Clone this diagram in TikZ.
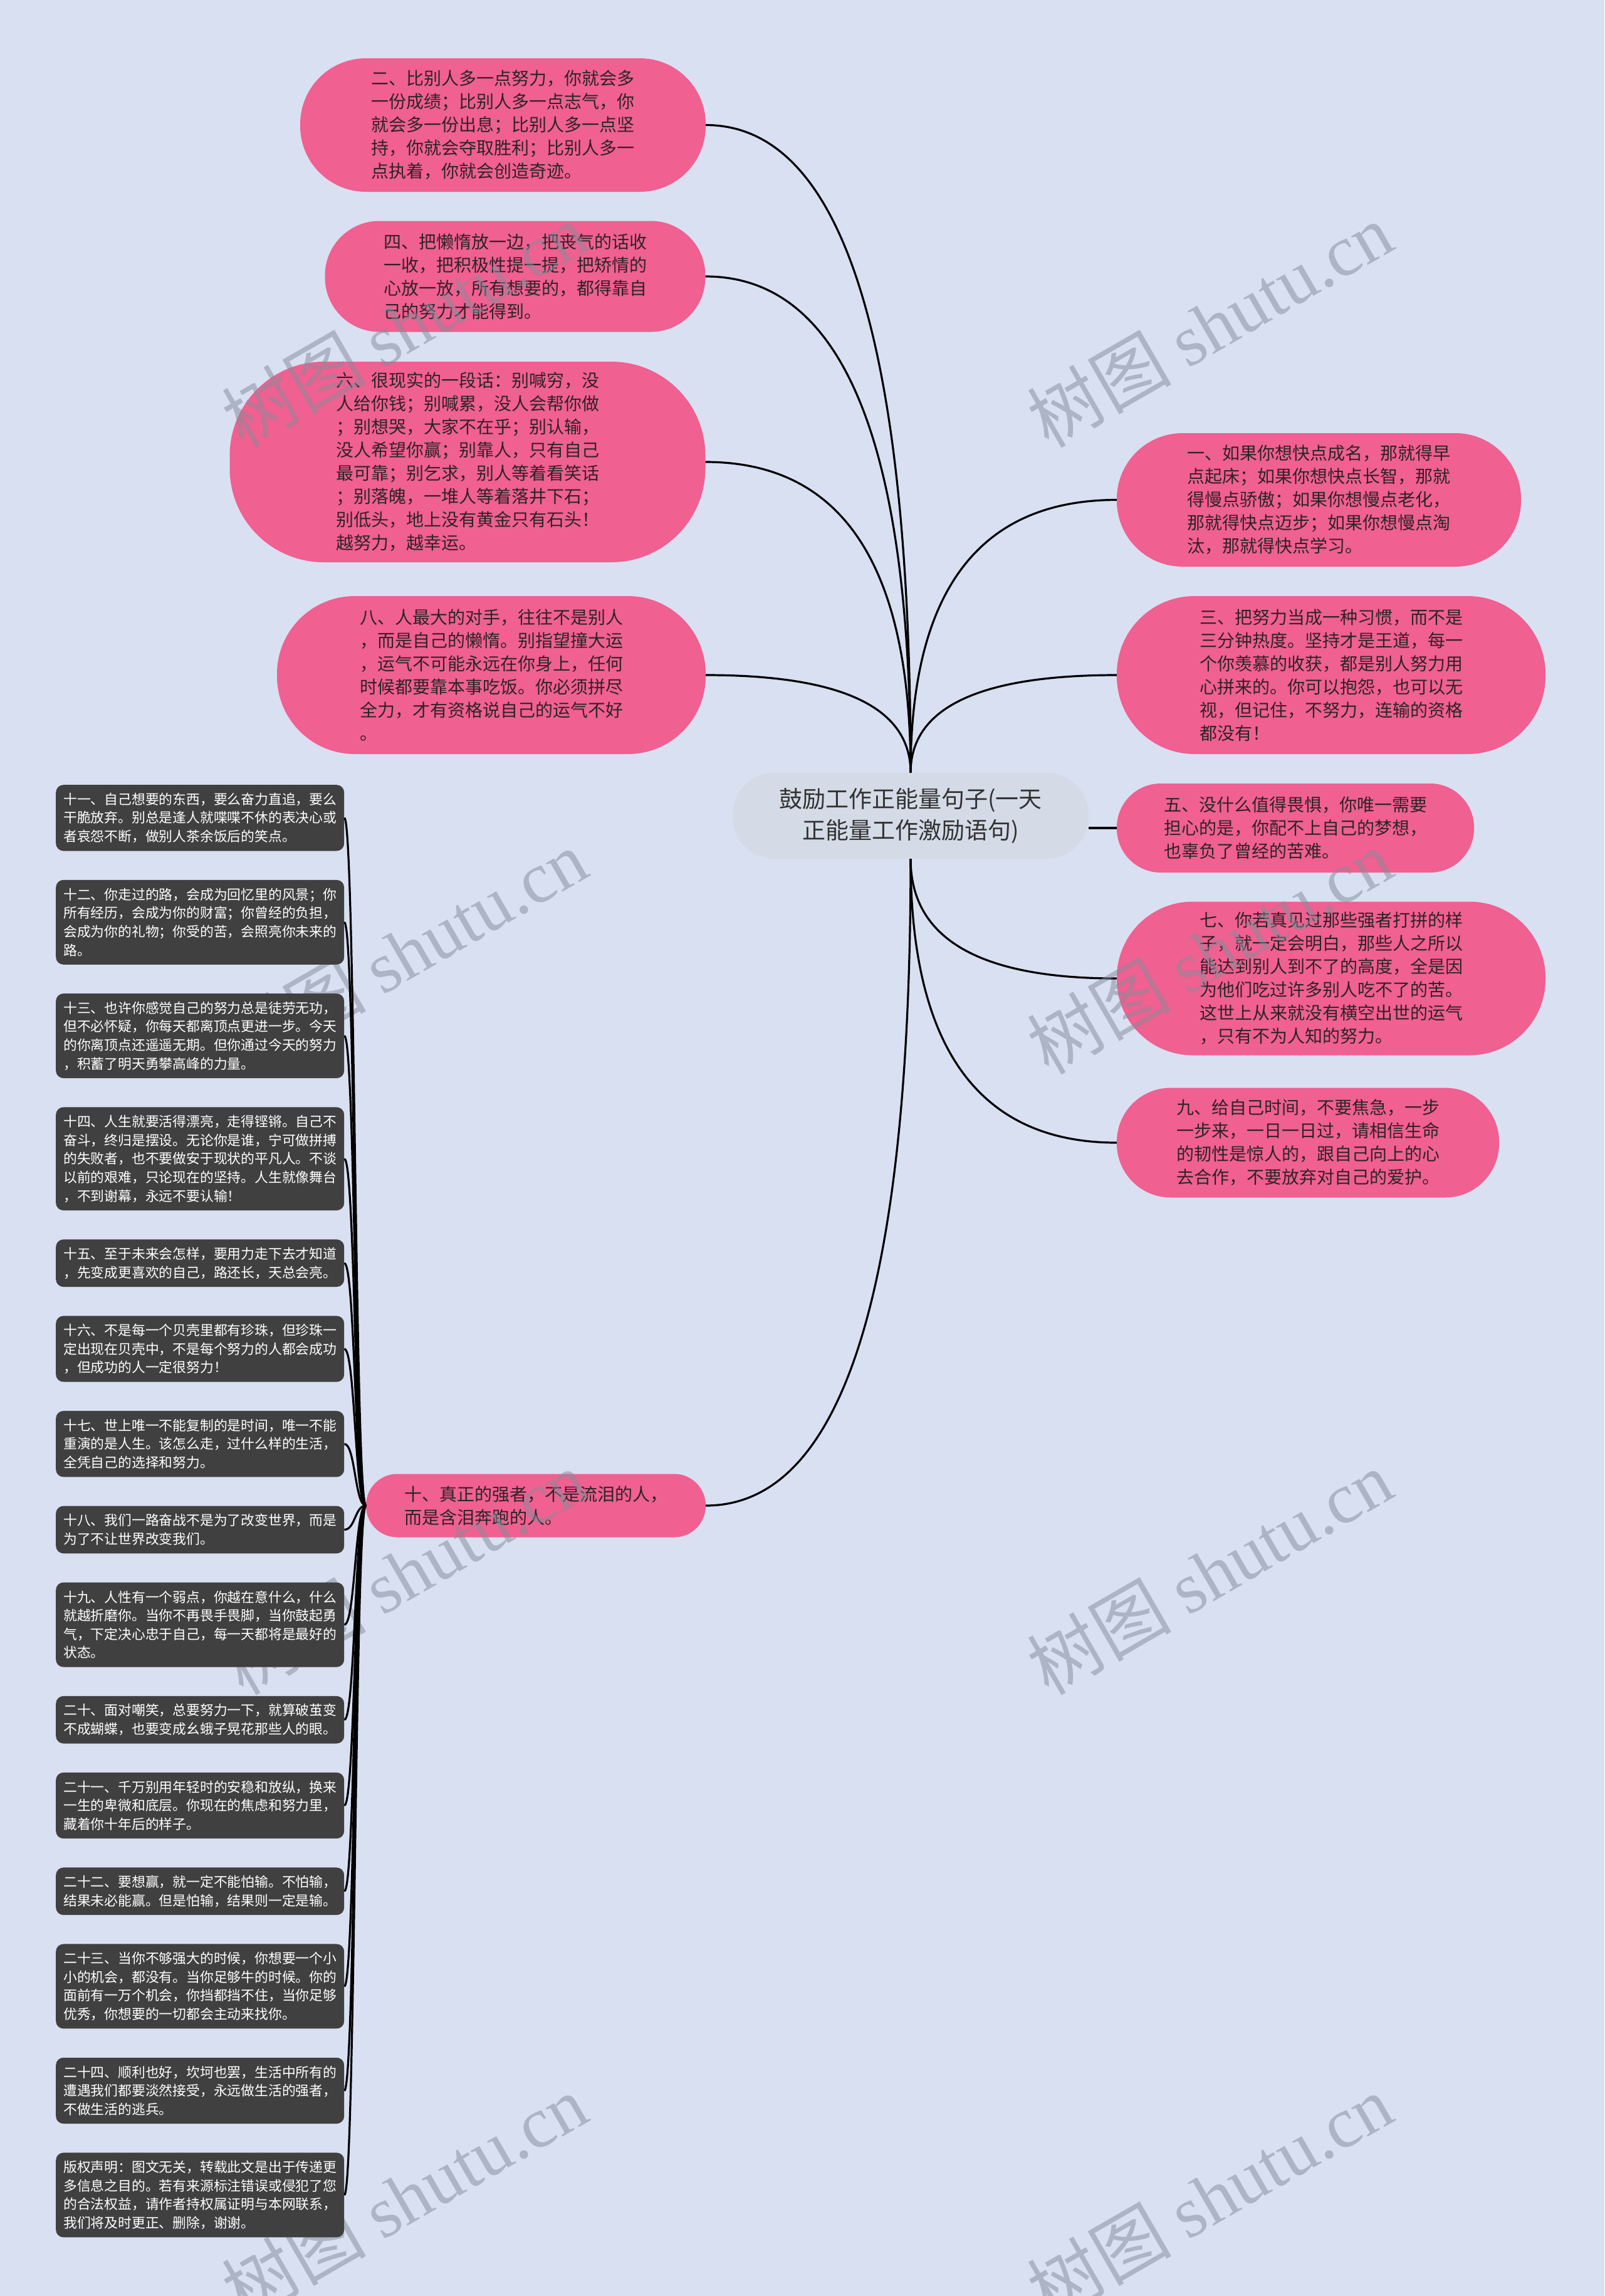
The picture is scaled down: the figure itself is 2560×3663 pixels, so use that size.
\documentclass[tikz,border=0pt]{standalone}
\usepackage{fontspec}
\setmainfont{Noto Sans CJK SC}
\newfontfamily\wmlatin{Liberation Serif}
\usetikzlibrary{calc}
\definecolor{bgc}{RGB}{217,224,242}
\definecolor{pinkc}{RGB}{240,96,144}
\definecolor{darkc}{RGB}{64,64,64}
\definecolor{ctrc}{RGB}{212,219,230}
\definecolor{ptext}{RGB}{45,35,40}
\definecolor{ctext}{RGB}{50,50,50}
\definecolor{wmc}{RGB}{131,140,154}
\newcommand\mmlink[2]{\coordinate (mmk) at (#1 |- #2);
  \draw[link] (#1) .. controls ($(#1)!0.667!(mmk)$) and ($(#2)!0.667!(mmk)$) .. (#2);}
\newcommand\boxlink[1]{\draw[link] (n10.west) .. controls ([xshift=-17.5pt]n10.west) and ([xshift=17.5pt]#1.east) .. (#1.east);}
\tikzset{
  pinknode/.style={fill=pinkc, text=ptext, align=left, text width=420pt, inner sep=0pt,
    font=\fontsize{28pt}{37pt}\selectfont},
  darkbox/.style={fill=darkc, text=white, align=left, text width=436pt, inner xsep=12pt,
    inner ysep=0pt, rounded corners=12pt, minimum height=#1*29.66pt+16.35pt, anchor=north west,
    font=\fontsize{21.8pt}{29.66pt}\selectfont},
  centernode/.style={fill=ctrc, text=ctext, align=center, inner sep=0pt,
    font=\fontsize{37pt}{50pt}\selectfont},
  link/.style={draw=black, line width=3.2pt},
  wm/.style={text=wmc, text opacity=0.5, rotate=30, font=\fontsize{115pt}{120pt}\selectfont},
}
\begin{document}
\begin{tikzpicture}[x=1pt,y=1pt]
\useasboundingbox (0,0) rectangle (2560,-3663);
\fill[bgc] (0,0) rectangle (2560,-3663);

% left pink nodes
\node[pinknode, minimum width=647pt, minimum height=213pt, rounded corners=105pt] (n2) at (802.5,-199.5)
{二、比别人多一点努力，你就会多\\一份成绩；比别人多一点志气，你\\就会多一份出息；比别人多一点坚\\持，你就会夺取胜利；比别人多一\\点执着，你就会创造奇迹。};
\node[pinknode, minimum width=607pt, minimum height=177pt, rounded corners=87pt] (n4) at (822,-441)
{四、把懒惰放一边，把丧气的话收\\一收，把积极性提一提，把矫情的\\心放一放，所有想要的，都得靠自\\己的努力才能得到。};
\node[pinknode, minimum width=759pt, minimum height=320pt, rounded corners=150pt] (n6) at (746,-737)
{六、很现实的一段话：别喊穷，没\\人给你钱；别喊累，没人会帮你做\\；别想哭，大家不在乎；别认输，\\没人希望你赢；别靠人，只有自己\\最可靠；别乞求，别人等着看笑话\\；别落魄，一堆人等着落井下石；\\别低头，地上没有黄金只有石头！\\越努力，越幸运。};
\node[pinknode, minimum width=684pt, minimum height=252pt, rounded corners=124pt] (n8) at (784,-1077)
{八、人最大的对手，往往不是别人\\，而是自己的懒惰。别指望撞大运\\，运气不可能永远在你身上，任何\\时候都要靠本事吃饭。你必须拼尽\\全力，才有资格说自己的运气不好\\。};
\node[pinknode, minimum width=542pt, minimum height=101pt, rounded corners=50pt] (n10) at (855,-2402)
{十、真正的强者，不是流泪的人，\\而是含泪奔跑的人。};

% right pink nodes
\node[pinknode, minimum width=645pt, minimum height=213pt, rounded corners=105pt] (n1) at (2104.5,-797.5)
{一、如果你想快点成名，那就得早\\点起床；如果你想快点长智，那就\\得慢点骄傲；如果你想慢点老化，\\那就得快点迈步；如果你想慢点淘\\汰，那就得快点学习。};
\node[pinknode, minimum width=684pt, minimum height=252pt, rounded corners=124pt] (n3) at (2124,-1077)
{三、把努力当成一种习惯，而不是\\三分钟热度。坚持才是王道，每一\\个你羡慕的收获，都是别人努力用\\心拼来的。你可以抱怨，也可以无\\视，但记住，不努力，连输的资格\\都没有！};
\node[pinknode, minimum width=570pt, minimum height=142pt, rounded corners=70pt] (n5) at (2067,-1321)
{五、没什么值得畏惧，你唯一需要\\担心的是，你配不上自己的梦想，\\也辜负了曾经的苦难。};
\node[pinknode, minimum width=684pt, minimum height=245pt, rounded corners=121pt] (n7) at (2124,-1561)
{七、你若真见过那些强者打拼的样\\子，就一定会明白，那些人之所以\\能达到别人到不了的高度，全是因\\为他们吃过许多别人吃不了的苦。\\这世上从来就没有横空出世的运气\\，只有不为人知的努力。};
\node[pinknode, minimum width=610pt, minimum height=175pt, rounded corners=86pt] (n9) at (2087,-1823)
{九、给自己时间，不要焦急，一步\\一步来，一日一日过，请相信生命\\的韧性是惊人的，跟自己向上的心\\去合作，不要放弃对自己的爱护。};

% center
\node[centernode, minimum width=568pt, minimum height=137pt, rounded corners=67pt] (ctr) at (1453,-1301.5)
{鼓励工作正能量句子(一天\\正能量工作激励语句)};

% center links
\mmlink{ctr.north}{n2.east}
\mmlink{ctr.north}{n4.east}
\mmlink{ctr.north}{n6.east}
\mmlink{ctr.north}{n8.east}
\mmlink{ctr.north}{n1.west}
\mmlink{ctr.north}{n3.west}
\draw[link] (ctr.east |- n5.west) -- (n5.west);
\mmlink{ctr.south}{n7.west}
\mmlink{ctr.south}{n9.west}
\mmlink{ctr.south}{n10.east}

% watermarks
\node[wm] (w1) at (645,-518) {树图 {\wmlatin shutu.cn}};
\node[wm] (w2) at (1930,-518) {树图 {\wmlatin shutu.cn}};
\node[wm] (w3) at (645,-1518) {树图 {\wmlatin shutu.cn}};
\node[wm] (w4) at (1930,-1518) {树图 {\wmlatin shutu.cn}};
\node[wm] (w5) at (645,-2508) {树图 {\wmlatin shutu.cn}};
\node[wm] (w6) at (1930,-2508) {树图 {\wmlatin shutu.cn}};
\node[wm] (w7) at (645,-3504) {树图 {\wmlatin shutu.cn}};
\node[wm] (w8) at (1930,-3504) {树图 {\wmlatin shutu.cn}};

% dark boxes
\node[darkbox=3] (b11) at (89,-1252)
{十一、自己想要的东西，要么奋力直追，要么\\干脆放弃。别总是逢人就喋喋不休的表决心或\\者哀怨不断，做别人茶余饭后的笑点。};
\node[darkbox=4] (b12) at ([yshift=-45.9pt]b11.south west)
{十二、你走过的路，会成为回忆里的风景；你\\所有经历，会成为你的财富；你曾经的负担，\\会成为你的礼物；你受的苦，会照亮你未来的\\路。};
\node[darkbox=4] (b13) at ([yshift=-45.9pt]b12.south west)
{十三、也许你感觉自己的努力总是徒劳无功，\\但不必怀疑，你每天都离顶点更进一步。今天\\的你离顶点还遥遥无期。但你通过今天的努力\\，积蓄了明天勇攀高峰的力量。};
\node[darkbox=5] (b14) at ([yshift=-45.9pt]b13.south west)
{十四、人生就要活得漂亮，走得铿锵。自己不\\奋斗，终归是摆设。无论你是谁，宁可做拼搏\\的失败者，也不要做安于现状的平凡人。不谈\\以前的艰难，只论现在的坚持。人生就像舞台\\，不到谢幕，永远不要认输！};
\node[darkbox=2] (b15) at ([yshift=-45.9pt]b14.south west)
{十五、至于未来会怎样，要用力走下去才知道\\，先变成更喜欢的自己，路还长，天总会亮。};
\node[darkbox=3] (b16) at ([yshift=-45.9pt]b15.south west)
{十六、不是每一个贝壳里都有珍珠，但珍珠一\\定出现在贝壳中，不是每个努力的人都会成功\\，但成功的人一定很努力！};
\node[darkbox=3] (b17) at ([yshift=-45.9pt]b16.south west)
{十七、世上唯一不能复制的是时间，唯一不能\\重演的是人生。该怎么走，过什么样的生活，\\全凭自己的选择和努力。};
\node[darkbox=2] (b18) at ([yshift=-45.9pt]b17.south west)
{十八、我们一路奋战不是为了改变世界，而是\\为了不让世界改变我们。};
\node[darkbox=4] (b19) at ([yshift=-45.9pt]b18.south west)
{十九、人性有一个弱点，你越在意什么，什么\\就越折磨你。当你不再畏手畏脚，当你鼓起勇\\气，下定决心忠于自己，每一天都将是最好的\\状态。};
\node[darkbox=2] (b20) at ([yshift=-45.9pt]b19.south west)
{二十、面对嘲笑，总要努力一下，就算破茧变\\不成蝴蝶，也要变成幺蛾子晃花那些人的眼。};
\node[darkbox=3] (b21) at ([yshift=-45.9pt]b20.south west)
{二十一、千万别用年轻时的安稳和放纵，换来\\一生的卑微和底层。你现在的焦虑和努力里，\\藏着你十年后的样子。};
\node[darkbox=2] (b22) at ([yshift=-45.9pt]b21.south west)
{二十二、要想赢，就一定不能怕输。不怕输，\\结果未必能赢。但是怕输，结果则一定是输。};
\node[darkbox=4] (b23) at ([yshift=-45.9pt]b22.south west)
{二十三、当你不够强大的时候，你想要一个小\\小的机会，都没有。当你足够牛的时候。你的\\面前有一万个机会，你挡都挡不住，当你足够\\优秀，你想要的一切都会主动来找你。};
\node[darkbox=3] (b24) at ([yshift=-45.9pt]b23.south west)
{二十四、顺利也好，坎坷也罢，生活中所有的\\遭遇我们都要淡然接受，永远做生活的强者，\\不做生活的逃兵。};
\node[darkbox=4] (bcr) at ([yshift=-45.9pt]b24.south west)
{版权声明：图文无关，转载此文是出于传递更\\多信息之目的。若有来源标注错误或侵犯了您\\的合法权益，请作者持权属证明与本网联系，\\我们将及时更正、删除，谢谢。};

% links to dark boxes
\boxlink{b11}
\boxlink{b12}
\boxlink{b13}
\boxlink{b14}
\boxlink{b15}
\boxlink{b16}
\boxlink{b17}
\boxlink{b18}
\boxlink{b19}
\boxlink{b20}
\boxlink{b21}
\boxlink{b22}
\boxlink{b23}
\boxlink{b24}
\boxlink{bcr}
\end{tikzpicture}
\end{document}
